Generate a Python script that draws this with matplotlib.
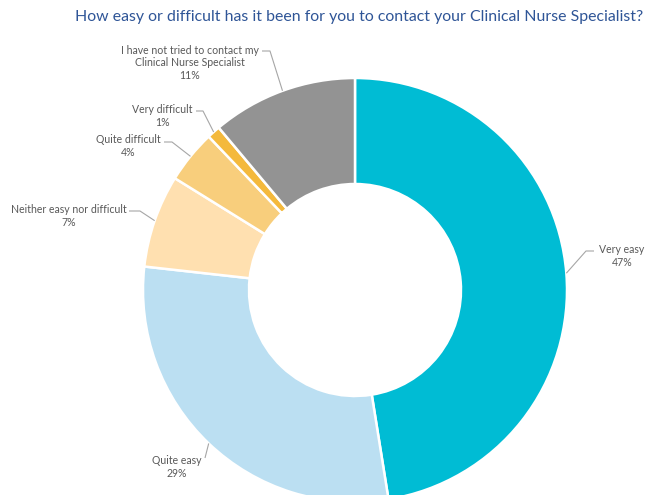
import matplotlib.pyplot as plt
import numpy as np

categories = ["Very easy", "Quite easy", "Neither easy nor difficult",
              "Quite difficult", "Very difficult",
              "I have not tried to contact my\nClinical Nurse Specialist"]
values = [47, 29, 7, 4, 1, 11]
colors = ["#00BCD4", "#BBDFF2", "#FFE0B0", "#F8CE7C", "#F4B93C", "#939393"]
title = "How easy or difficult has it been for you to contact your Clinical Nurse Specialist?"

W, H = 648, 495
fig = plt.figure(figsize=(W / 100, H / 100), dpi=100)
ax = fig.add_axes([0, 0, 1, 1])

cx, cy, R = 355, H - 290, 212
wedges, _ = ax.pie(values, colors=colors, startangle=90, counterclock=False,
                   center=(cx, cy), radius=R,
                   wedgeprops=dict(width=R * 0.5, edgecolor="white", linewidth=1.8))
ax.set_xlim(0, W)
ax.set_ylim(0, H)
ax.set_aspect("equal")
ax.axis("off")

# label layout (pixel coords, top-down): text centre, line start, knee
layout = [
    ((622, 256), (594, 251), (586, 251)),
    ((177, 467), (205, 458), (205, 458)),
    ((69, 216), (129, 211), (140, 211)),
    ((128, 146), (164, 142), (172, 142)),
    ((162, 116), (196, 111), (203, 111)),
    ((190, 63), (262, 51), (270, 51)),
]

lc = "#A6A6A6"
tc = "#595959"
for w, cat, val, (tp, sp, kp) in zip(wedges, categories, values, layout):
    ang = np.deg2rad((w.theta1 + w.theta2) / 2)
    ex = cx + R * np.cos(ang)
    ey = cy + R * np.sin(ang)
    ax.text(tp[0], H - tp[1], f"{cat}\n{val}%", ha="center", va="center",
            fontsize=7.6, color=tc, family=["Lato", "DejaVu Sans"], linespacing=1.15)
    ax.plot([sp[0], kp[0], ex], [H - sp[1], H - kp[1], ey], color=lc, lw=0.8,
            solid_capstyle="butt")

t = fig.text(75 / W, 1 - 17 / H, title, ha="left", va="center", fontsize=12,
             color="#2F5597", family=["Lato", "DejaVu Sans"])
fig.canvas.draw()
wpx = t.get_window_extent().width
t.set_fontsize(12 * 568 / wpx)

fig.savefig("out.png", dpi=100)
